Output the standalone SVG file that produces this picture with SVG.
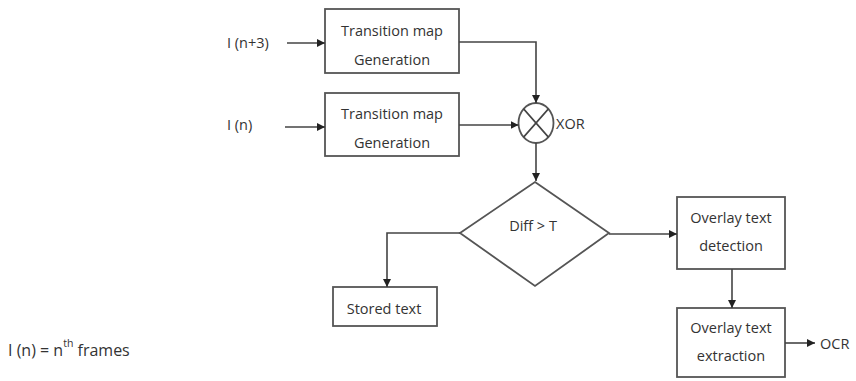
<svg xmlns="http://www.w3.org/2000/svg" width="856" height="381" viewBox="0 0 856 381">
<defs>
<marker id="ah" viewBox="0 0 10 10" refX="10" refY="5" markerWidth="8" markerHeight="8" markerUnits="userSpaceOnUse" orient="auto">
<path d="M0,0 L10,5 L0,10 Z" fill="#222"/>
</marker>
<style>
.box{fill:#fff;stroke:#555;stroke-width:1.8}
.ln{fill:none;stroke:#444;stroke-width:1.6}
.t{font-family:"Open Sans","Liberation Sans",sans-serif;font-size:14.5px;fill:#333;text-anchor:middle;dominant-baseline:central}
.l{font-family:"Open Sans","Liberation Sans",sans-serif;font-size:14.5px;fill:#333;dominant-baseline:central}
</style>
</defs>
<rect width="856" height="381" fill="#fff"/>
<g id="in3"><text class="l" x="227" y="42">I (n+3)</text></g>
<g id="in"><text class="l" x="227" y="124">I (n)</text></g>
<g id="tm1"><rect class="box" x="325" y="9" width="134" height="64"/><text class="t" x="392" y="30">Transition map</text><text class="t" x="392" y="59">Generation</text></g>
<g id="tm2"><rect class="box" x="325" y="93" width="134" height="63"/><text class="t" x="392" y="113">Transition map</text><text class="t" x="392" y="142">Generation</text></g>
<g id="xor"><ellipse class="box" cx="536" cy="123" rx="17.5" ry="20"/><path class="ln" d="M523.6,108.9 L548.4,137.1 M548.4,108.9 L523.6,137.1"/><text class="l" x="556" y="123">XOR</text></g>
<g id="diff"><polygon class="box" points="535,182 609,233 535,286 460,233"/><text class="t" x="533" y="225">Diff &gt; T</text></g>
<g id="stored"><rect class="box" x="333" y="287" width="104" height="39"/><text class="t" x="384" y="308">Stored text</text></g>
<g id="det"><rect class="box" x="677" y="197" width="108" height="72"/><text class="t" x="731" y="217">Overlay text</text><text class="t" x="731" y="245">detection</text></g>
<g id="ext"><rect class="box" x="677" y="308" width="108" height="69"/><text class="t" x="731" y="327">Overlay text</text><text class="t" x="731" y="355">extraction</text></g>
<g id="ocr"><text class="l" x="820" y="343">OCR</text></g>
<g id="legend"><text class="l" x="8" y="350" style="font-size:16px">I (n) = n<tspan font-size="10.5" dy="-7">th</tspan><tspan dy="7"> frames</tspan></text></g>
<g id="connectors">
<path class="ln" marker-end="url(#ah)" d="M287,43 L325,43"/>
<path class="ln" marker-end="url(#ah)" d="M285,127 L325,127"/>
<path class="ln" marker-end="url(#ah)" d="M459,42 L536,42 L536,103"/>
<path class="ln" marker-end="url(#ah)" d="M459,125 L518.5,125"/>
<path class="ln" marker-end="url(#ah)" d="M536,143 L536,181"/>
<path class="ln" marker-end="url(#ah)" d="M460,233 L387,233 L387,287"/>
<path class="ln" marker-end="url(#ah)" d="M609,234 L677,234"/>
<path class="ln" marker-end="url(#ah)" d="M732,269 L732,308"/>
<path class="ln" marker-end="url(#ah)" d="M785,343 L815,343"/>
</g>
</svg>
